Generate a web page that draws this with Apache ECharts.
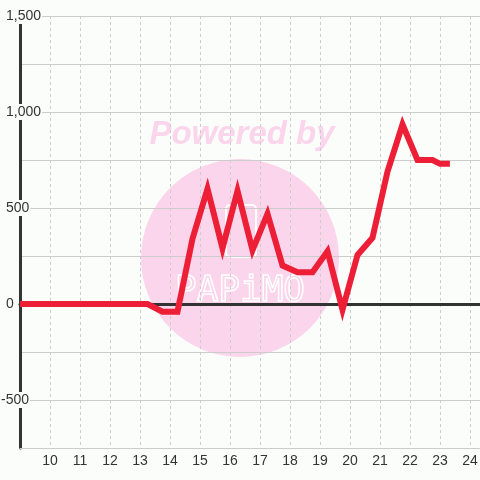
<!DOCTYPE html>
<html>
<head>
<meta charset="utf-8">
<script src="https://cdn.jsdelivr.net/npm/echarts@6/dist/echarts.min.js"></script>
<style>
  html, body { margin: 0; padding: 0; background: #fbfdfb; }
  #main { width: 480px; height: 480px; }
</style>
</head>
<body>
<div id="main"></div>
<script>
// hour of day and value at that hour
let hours = [9, 10, 11, 12, 13, 13.25, 13.75, 14.25, 14.75, 15.25, 15.75, 16.25, 16.75, 17.25,
  17.75, 18.25, 18.75, 19.25, 19.75, 20.25, 20.75, 21.25, 21.75, 22.25, 22.75, 23, 23.33];
let values = [0, 0, 0, 0, 0, 0, -40, -40, 340, 600, 290, 590, 280, 470,
  200, 165, 165, 275, -30, 255, 345, 690, 935, 750, 750, 730, 730];
let xTicks = [10, 11, 12, 13, 14, 15, 16, 17, 18, 19, 20, 21, 22, 23, 24];
let yTicks = [-500, 0, 500, 1000, 1500];

let chart = echarts.init(document.getElementById('main'));

function fmt(v) {
  return String(v).replace(/\B(?=(\d{3})+(?!\d))/g, ',');
}

let option = {
  backgroundColor: '#fbfdfb',
  animation: false,
  grid: {left: 20, right: 0, top: 16, bottom: 32, outerBoundsMode: 'none', containLabel: false},
  graphic: [
    {
      type: 'circle', z: -10, silent: true,
      shape: {cx: 240, cy: 258, r: 99},
      style: {fill: '#fbd5eb'}
    },
    {
      type: 'text', z: -10, silent: true,
      x: 242, y: 135,
      style: {
        text: 'Powered by', fill: '#fbd5eb', align: 'center', verticalAlign: 'middle',
        font: 'italic bold 33px "Liberation Sans", sans-serif'
      }
    },
    {
      type: 'rect', z: -9, silent: true,
      shape: {x: 226, y: 205, width: 30, height: 52, r: 4},
      style: {fill: 'none', stroke: '#ffffff', lineWidth: 2}
    },
    {
      type: 'text', z: -9, silent: true,
      x: 240, y: 292,
      style: {
        text: 'PAPiMO', fill: 'none', stroke: '#ffffff', lineWidth: 1.5,
        align: 'center', verticalAlign: 'middle',
        font: '36px "DejaVu Sans Mono", monospace'
      }
    }
  ],
  xAxis: [
    {
      type: 'value',
      min: 9,
      max: 24.333,
      interval: 1,
      position: 'bottom',
      axisLine: {onZero: false, lineStyle: {color: '#cccccc', width: 1}},
      axisTick: {show: false},
      axisLabel: {
        margin: 6,
        color: '#333333',
        fontSize: 14,
        fontFamily: '"Liberation Sans", sans-serif',
        formatter: function (v) {
          return xTicks.indexOf(v) >= 0 ? String(v) : '';
        }
      },
      splitLine: {show: true, lineStyle: {color: '#cccccc', type: [3, 3], width: 1}}
    },
    {
      // zero line
      type: 'value',
      min: 9,
      max: 24.333,
      position: 'top',
      axisLine: {onZero: true, lineStyle: {color: '#333333', width: 3}},
      axisTick: {show: false},
      axisLabel: {show: false},
      splitLine: {show: false}
    }
  ],
  yAxis: {
    type: 'value',
    min: -750,
    max: 1500,
    interval: 250,
    axisLine: {show: true, lineStyle: {color: '#333333', width: 3}},
    axisTick: {show: false},
    splitLine: {lineStyle: {color: '#cccccc', width: 1}},
    axisLabel: {
      inside: true,
      margin: -19,
      align: 'left',
      color: '#333333',
      fontSize: 14,
      fontFamily: '"Liberation Sans", sans-serif',
      backgroundColor: '#fbfdfb',
      padding: [1, 1, 1, 0],
      formatter: function (v) {
        if (yTicks.indexOf(v) < 0) return '';
        return v < 0 ? fmt(v) : '{s|}' + fmt(v);
      },
      rich: {s: {width: 5}}
    }
  },
  series: [{
    type: 'line',
    xAxisIndex: 0,
    data: hours.map(function (h, i) { return [h, values[i]]; }),
    showSymbol: false,
    lineStyle: {color: '#ed1f37', width: 6, join: 'miter'},
    z: 5
  }]
};

chart.setOption(option);
</script>
</body>
</html>
